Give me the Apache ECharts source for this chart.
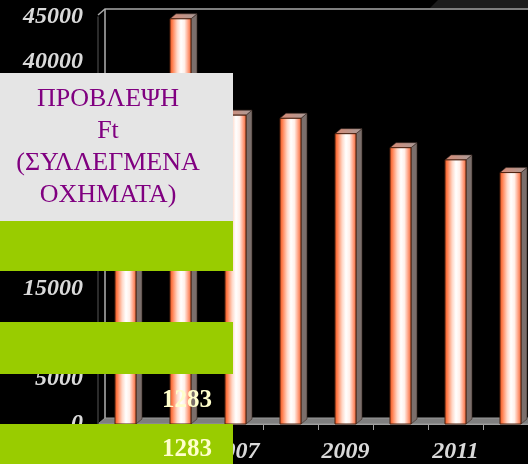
<!DOCTYPE html>
<html>
<head>
<meta charset="utf-8">
<script src="https://cdn.jsdelivr.net/npm/echarts@6/dist/echarts.min.js"></script>
<style>
  html, body { margin: 0; padding: 0; background: #000; }
  #main { width: 528px; height: 464px; }
</style>
</head>
<body>
<div id="main"></div>
<script>
// data
var years = ['2005', '2006', '2007', '2008', '2009', '2010', '2011', '2012'];
var vehicles = [35500, 44800, 34150, 33800, 32100, 30550, 29200, 27800];
var yTicks = [0, 45000, 5000]; // min, max, interval
var titleLines = ['ΠΡΟΒΛΕΨΗ', 'Ft', '(ΣΥΛΛΕΓΜΕΝΑ', 'ΟΧΗΜΑΤΑ)'];
var forecastLabel = '1283';

var chart = echarts.init(document.getElementById('main'));

// plot area (front plane) and 3d depth
var G = { left: 98, top: 17, width: 440, height: 407, outerBoundsMode: 'none' };
var depth = { dx: 7, dy: 6 };
var barDepth = { dx: 6, dy: 5 };
var barW = 21;
var serif = '"Liberation Serif", "DejaVu Serif", serif';

var frontFill = new echarts.graphic.LinearGradient(0, 0, 1, 0, [
    { offset: 0, color: '#e0521f' },
    { offset: 0.12, color: '#ff7a48' },
    { offset: 0.35, color: '#ffd8c8' },
    { offset: 0.52, color: '#ffffff' },
    { offset: 0.68, color: '#fff0ea' },
    { offset: 0.86, color: '#ff9c7c' },
    { offset: 1, color: '#e5602f' }
]);
var topFill = new echarts.graphic.LinearGradient(0, 0, 1, 0, [
    { offset: 0, color: '#d98a74' },
    { offset: 1, color: '#a89c9a' }
]);

// 3d bar: front face, right side, top face
function renderBar(params, api) {
    var idx = api.value(0);
    var top = api.coord([idx, api.value(1)]);
    var base = api.coord([idx, 0]);
    var x0 = top[0] - barW / 2, x1 = top[0] + barW / 2;
    var dx = barDepth.dx, dy = barDepth.dy;
    return {
        type: 'group',
        children: [
            {
                type: 'polygon',
                shape: { points: [[x1, top[1]], [x1 + dx, top[1] - dy], [x1 + dx, base[1] - dy], [x1, base[1]]] },
                style: { fill: '#7b6f6c', stroke: '#3a2a24', lineWidth: 0.6 }
            },
            {
                type: 'polygon',
                shape: { points: [[x0, top[1]], [x0 + dx, top[1] - dy], [x1 + dx, top[1] - dy], [x1, top[1]]] },
                style: { fill: topFill, stroke: '#3a2a24', lineWidth: 0.6 }
            },
            {
                type: 'rect',
                shape: { x: x0, y: top[1], width: barW, height: base[1] - top[1] },
                style: { fill: frontFill, stroke: '#4a1e0c', lineWidth: 1 }
            }
        ]
    };
}

var gx0 = G.left, gx1 = G.left + G.width, gy0 = G.top, gy1 = G.top + G.height;

var graphics = [
    // slide decoration top right
    { type: 'polygon', z: 0, shape: { points: [[430, 8], [438, 0], [528, 0], [528, 8]] }, style: { fill: '#1c1c1c' } },
    // floor
    { type: 'polygon', z: 0, shape: { points: [[gx0, gy1], [gx0 + depth.dx, gy1 - depth.dy], [gx1 + depth.dx, gy1 - depth.dy], [gx1, gy1]] },
      style: { fill: '#7f7f7f', stroke: '#9a9a9a', lineWidth: 1 } },
    // back wall edges
    { type: 'polyline', z: 0, shape: { points: [[gx0, gy0 - 2], [gx0 + depth.dx, gy0 - depth.dy - 2], [gx1 + depth.dx, gy0 - depth.dy - 2]] },
      style: { stroke: '#a8a8a8', lineWidth: 1.5, fill: null } },
    { type: 'line', z: 0, shape: { x1: gx0 + depth.dx, y1: gy0 - depth.dy - 2, x2: gx0 + depth.dx, y2: gy1 - depth.dy },
      style: { stroke: '#b0b0b0', lineWidth: 1.5 } },
    // overlay boxes
    { type: 'rect', z: 100, shape: { x: 0, y: 73, width: 233, height: 148 }, style: { fill: '#e5e5e5' } },
    { type: 'rect', z: 100, shape: { x: 0, y: 221, width: 233, height: 50 }, style: { fill: '#99cc00' } },
    { type: 'rect', z: 100, shape: { x: 0, y: 322, width: 233, height: 52 }, style: { fill: '#99cc00' } },
    { type: 'rect', z: 100, shape: { x: 0, y: 424, width: 233, height: 40 }, style: { fill: '#99cc00' } },
    { type: 'text', z: 101, x: 212, y: 401, style: { text: forecastLabel, fill: '#ffffcc', font: 'bold 25px ' + serif, textAlign: 'right', textVerticalAlign: 'middle' } },
    { type: 'text', z: 101, x: 212, y: 450, style: { text: forecastLabel, fill: '#ffffcc', font: 'bold 25px ' + serif, textAlign: 'right', textVerticalAlign: 'middle' } }
];
for (var i = 0; i < titleLines.length; i++) {
    graphics.push({
        type: 'text', z: 101, x: 108, y: 99 + i * 32,
        style: { text: titleLines[i], fill: '#800080', font: '26px ' + serif, textAlign: 'center', textVerticalAlign: 'middle' }
    });
}

chart.setOption({
    backgroundColor: '#000000',
    animation: false,
    grid: G,
    xAxis: {
        type: 'category',
        data: years,
        axisLine: { lineStyle: { color: '#a0a0a0', width: 1 } },
        axisTick: { show: true, interval: 0, length: 6, lineStyle: { color: '#a0a0a0' } },
        axisLabel: {
            interval: 1,
            margin: 16,
            color: '#d9d9d9',
            fontFamily: serif,
            fontSize: 24,
            fontWeight: 'bold',
            fontStyle: 'italic'
        }
    },
    yAxis: {
        type: 'value',
        min: yTicks[0],
        max: yTicks[1],
        interval: yTicks[2],
        splitLine: { show: false },
        axisLine: { show: true, lineStyle: { color: '#3a3a3a', width: 1.5 } },
        axisTick: { show: false },
        axisLabel: {
            margin: 15,
            color: '#d9d9d9',
            fontFamily: serif,
            fontSize: 24,
            fontWeight: 'bold',
            fontStyle: 'italic',
            formatter: function (v) { return String(v); }
        }
    },
    series: [{
        type: 'custom',
        renderItem: renderBar,
        encode: { x: 0, y: 1 },
        data: vehicles.map(function (v, i) { return [i, v]; }),
        clip: false
    }],
    graphic: graphics
});
</script>
</body>
</html>
